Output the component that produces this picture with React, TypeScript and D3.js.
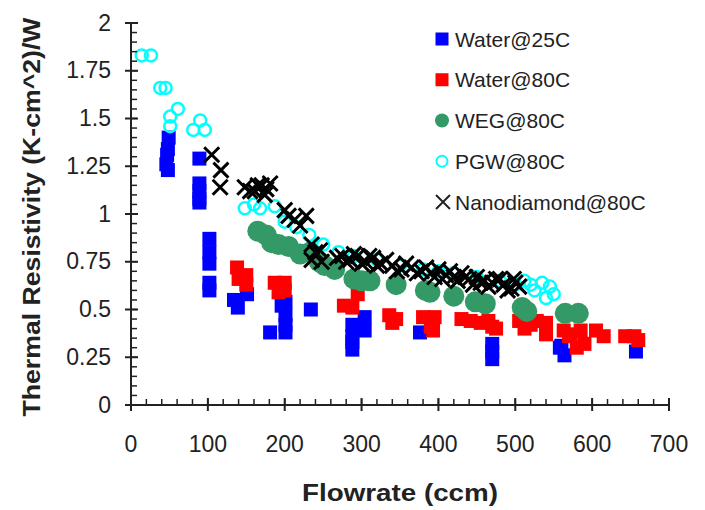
import React, {Component} from 'react'
import * as d3 from 'd3'

type Pt = [number, number]

// flow rate (ccm), thermal resistivity (K-cm^2)/W
const water25C: Pt[] = [
  [49,1.40],[48,1.34],[47,1.31],[46,1.26],[48,1.23],
  [89,1.29],[89,1.16],[89,1.12],[89,1.08],[89,1.06],
  [102,0.87],[102,0.80],[102,0.74],[102,0.64],[102,0.60],
  [151,0.58],[134,0.55],[139,0.51],
  [181,0.38],
  [201,0.54],[201,0.47],[201,0.42],[201,0.38],[196,0.52],
  [234,0.50],
  [304,0.46],[304,0.39],[288,0.42],[288,0.36],[288,0.33],[288,0.29],
  [376,0.38],
  [470,0.32],[470,0.28],[470,0.24],
  [558,0.30],[564,0.26],[560,0.31],
  [657,0.28]
]
const water80C: Pt[] = [
  [138,0.72],[140,0.66],[150,0.68],[150,0.63],
  [187,0.64],[200,0.64],[192,0.59],[200,0.60],
  [295,0.58],[277,0.52],[288,0.51],
  [336,0.47],[345,0.45],[340,0.43],
  [380,0.46],[395,0.46],[390,0.41],[393,0.39],
  [430,0.45],[442,0.44],[455,0.43],[465,0.44],[470,0.41],[475,0.40],
  [505,0.44],[520,0.42],[528,0.44],[540,0.43],[540,0.37],[512,0.40],
  [563,0.39],[572,0.37],[570,0.36],[585,0.39],[580,0.30],[590,0.32],[605,0.39],[615,0.36],
  [643,0.36],[655,0.36],[660,0.34]
]
const weg80C: Pt[] = [
  [165,0.91],[176,0.89],[183,0.85],[192,0.84],[205,0.83],[220,0.79],[233,0.80],
  [245,0.75],[252,0.73],[265,0.71],[290,0.66],[300,0.65],[311,0.65],[345,0.63],
  [383,0.60],[389,0.59],[420,0.57],[448,0.54],[461,0.53],[509,0.51],[515,0.49],
  [565,0.48],[582,0.48]
]
const pgw80C: Pt[] = [
  [14,1.83],[26,1.83],[38,1.66],[45,1.66],[51,1.51],[51,1.46],[61,1.55],
  [81,1.44],[90,1.49],[96,1.44],[148,1.03],[160,1.05],[168,1.03],[187,1.04],
  [200,0.96],[215,0.93],[232,0.89],[250,0.84],[270,0.80],[290,0.78],[320,0.76],
  [350,0.73],[380,0.71],[400,0.70],[420,0.69],[450,0.67],[480,0.65],[500,0.63],
  [512,0.65],[520,0.63],[525,0.60],[535,0.64],[545,0.62],[550,0.58],[540,0.56]
]
const nano80C: Pt[] = [
  [105,1.31],[117,1.23],[116,1.14],
  [148,1.14],[155,1.12],[161,1.12],[165,1.15],[170,1.15],[176,1.13],[181,1.16],[174,1.10],
  [200,1.02],[205,0.99],[213,0.97],[220,0.94],[228,0.99],[235,0.84],[235,0.76],[240,0.80],[246,0.81],[248,0.75],
  [268,0.77],[275,0.78],[280,0.75],[285,0.76],[290,0.79],[295,0.78],[300,0.74],[305,0.75],[310,0.78],[315,0.77],[320,0.73],[325,0.74],
  [332,0.76],[340,0.73],[346,0.70],[352,0.71],[358,0.74],[365,0.72],[372,0.69],[378,0.70],[384,0.72],[390,0.69],[395,0.67],[400,0.71],
  [405,0.66],[410,0.68],[415,0.70],[420,0.67],[425,0.65],[430,0.69],[435,0.67],[440,0.66],[445,0.63],[450,0.67],[455,0.64],[460,0.65],
  [465,0.62],[470,0.64],[475,0.66],[480,0.66],[485,0.63],[490,0.60],[495,0.61],[500,0.64],[505,0.62],[498,0.66]
]

const legendLabels = ['Water@25C','Water@80C','WEG@80C','PGW@80C','Nanodiamond@80C']
const xTicks = [0,100,200,300,400,500,600,700]
const yTicks = [0,0.25,0.5,0.75,1,1.25,1.5,1.75,2]

const W = 705, H = 510
const font = '"Liberation Sans", Arial, sans-serif'
const ink = '#222'

class App extends Component {
  svgRef = React.createRef<SVGSVGElement>()

  draw(){
    const svg = d3.select(this.svgRef.current)
    svg.selectAll('*').remove()

    const x = d3.scaleLinear().domain([0,700]).range([131,669])
    const y = d3.scaleLinear().domain([0,2]).range([405,23])

    svg.append('rect').attr('width',W).attr('height',H).attr('fill','#fff')

    // series, drawn in legend order
    const g = svg.append('g')
    const sq = 14
    g.selectAll('rect.w25').data(water25C).join('rect')
      .attr('x', d => x(d[0]) - sq/2).attr('y', d => y(d[1]) - sq/2)
      .attr('width', sq).attr('height', sq).attr('fill', '#0000ff')
    g.selectAll('rect.w80').data(water80C).join('rect')
      .attr('x', d => x(d[0]) - sq/2).attr('y', d => y(d[1]) - sq/2)
      .attr('width', sq).attr('height', sq).attr('fill', '#ff0000')
    g.selectAll('circle.weg').data(weg80C).join('circle')
      .attr('cx', d => x(d[0])).attr('cy', d => y(d[1])).attr('r', 10.5)
      .attr('fill', '#339966')
    g.selectAll('circle.pgw').data(pgw80C).join('circle')
      .attr('cx', d => x(d[0])).attr('cy', d => y(d[1])).attr('r', 6)
      .attr('fill', 'none').attr('stroke', '#00ffff').attr('stroke-width', 2.5)
    const cross = (cx:number, cy:number, s:number) =>
      `M${cx-s},${cy-s}L${cx+s},${cy+s}M${cx-s},${cy+s}L${cx+s},${cy-s}`
    g.selectAll('path.nano').data(nano80C).join('path')
      .attr('d', d => cross(x(d[0]), y(d[1]), 7.5))
      .attr('stroke', '#000').attr('stroke-width', 3).attr('fill', 'none')

    // axes
    const ax = svg.append('g').attr('stroke', ink).attr('stroke-width', 2)
    ax.append('line').attr('x1', x(0)).attr('x2', x(0)).attr('y1', y(2)).attr('y2', y(0))
    ax.append('line').attr('x1', x(0)).attr('x2', x(700)).attr('y1', y(0)).attr('y2', y(0))
    ax.selectAll('line.ym').data(d3.range(0, 2.0001, 0.05)).join('line')
      .attr('x1', x(0)).attr('x2', x(0) + 6).attr('y1', d => y(d)).attr('y2', d => y(d))
      .attr('stroke-width', 1.5)
    ax.selectAll('line.yM').data(yTicks).join('line')
      .attr('x1', x(0) - 6).attr('x2', x(0) + 7).attr('y1', d => y(d)).attr('y2', d => y(d))
    ax.selectAll('line.xm').data(d3.range(0, 701, 20)).join('line')
      .attr('x1', d => x(d)).attr('x2', d => x(d)).attr('y1', y(0)).attr('y2', y(0) - 6)
      .attr('stroke-width', 1.5)
    ax.selectAll('line.xM').data(xTicks).join('line')
      .attr('x1', d => x(d)).attr('x2', d => x(d)).attr('y1', y(0) - 7).attr('y2', y(0) + 6)

    const t = svg.append('g').attr('font-family', font).attr('fill', ink)
    t.selectAll('text.yl').data(yTicks).join('text')
      .attr('x', 111).attr('y', d => y(d) + 7.5).attr('text-anchor', 'end')
      .attr('font-size', 23).text(d => String(d))
    t.selectAll('text.xl').data(xTicks).join('text')
      .attr('x', d => x(d)).attr('y', 452).attr('text-anchor', 'middle')
      .attr('font-size', 23).text(d => String(d))

    t.append('text').attr('x', 400).attr('y', 501).attr('text-anchor', 'middle')
      .attr('font-size', 23).attr('font-weight', 'bold')
      .attr('textLength', 196).attr('lengthAdjust', 'spacingAndGlyphs')
      .text('Flowrate (ccm)')
    t.append('text').attr('transform', 'translate(40,217) rotate(-90)')
      .attr('text-anchor', 'middle').attr('font-size', 24).attr('font-weight', 'bold')
      .attr('textLength', 399).attr('lengthAdjust', 'spacingAndGlyphs')
      .text('Thermal Resistivity (K-cm^2)/W')

    // legend
    const rowY = d3.scaleLinear().domain([0, 4]).range([39, 202])
    const lg = svg.append('g')
    const lx = 442
    lg.append('rect').attr('x', lx - 6.5).attr('y', rowY(0) - 6.5).attr('width', 13).attr('height', 13).attr('fill', '#0000ff')
    lg.append('rect').attr('x', lx - 6.5).attr('y', rowY(1) - 6.5).attr('width', 13).attr('height', 13).attr('fill', '#ff0000')
    lg.append('circle').attr('cx', lx).attr('cy', rowY(2)).attr('r', 7).attr('fill', '#339966')
    lg.append('circle').attr('cx', lx).attr('cy', rowY(3)).attr('r', 5.5)
      .attr('fill', '#fff').attr('stroke', '#00ffff').attr('stroke-width', 2)
    lg.append('path').attr('d', cross(lx + 1, rowY(4), 7)).attr('stroke', ink).attr('stroke-width', 2).attr('fill', 'none')
    lg.selectAll('text').data(legendLabels).join('text')
      .attr('x', 455).attr('y', (d, i) => rowY(i) + 7.5)
      .attr('font-family', font).attr('font-size', 21).attr('fill', ink)
      .text(d => d)
  }

  componentDidMount(){
    this.draw()
  }

  render(){
    return (
      <svg ref={this.svgRef} width={W} height={H}
        style={{position: 'absolute', left: 0, top: 0}} />
    )
  }
}

export default App
